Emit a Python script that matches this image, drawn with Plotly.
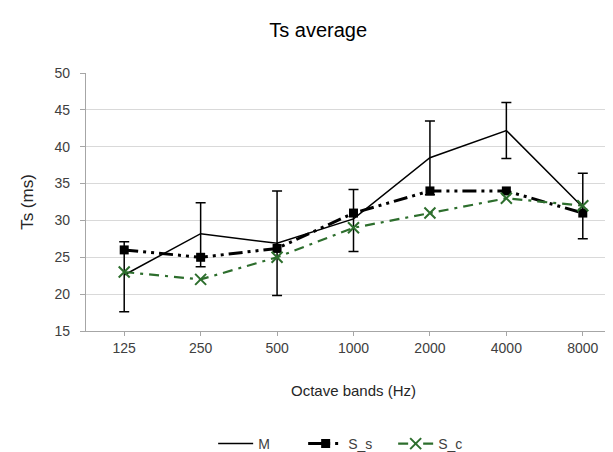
import plotly.graph_objects as go

bands = ["125", "250", "500", "1000", "2000", "4000", "8000"]
m_vals = [22.6, 28.2, 26.9, 30.2, 38.5, 42.2, 31.8]
m_err_plus = [4.5, 4.2, 7.1, 4.0, 5.0, 3.8, 4.6]
m_err_minus = [5.0, 4.5, 7.1, 4.4, 5.0, 3.8, 4.3]
ss_vals = [26.0, 25.0, 26.2, 31.0, 34.0, 34.0, 31.0]
sc_vals = [23.0, 22.0, 25.0, 29.0, 31.0, 33.0, 32.0]
y_ticks = [15, 20, 25, 30, 35, 40, 45, 50]

green = "#2d6e2d"
font_main = "Liberation Sans, Arial, sans-serif"

fig = go.Figure()
fig.add_trace(go.Scatter(
    x=bands, y=m_vals, name="M", mode="lines",
    line=dict(color="black", width=1.5),
    error_y=dict(type="data", symmetric=False, array=m_err_plus,
                 arrayminus=m_err_minus, color="black", thickness=1.5, width=5),
))
fig.add_trace(go.Scatter(
    x=bands, y=ss_vals, name="S_s", mode="lines+markers",
    line=dict(color="black", width=3, dash="14px,5px,3px,5px,3px,5px"),
    marker=dict(symbol="square", size=9, color="black"),
))
fig.add_trace(go.Scatter(
    x=bands, y=sc_vals, name="S_c", mode="lines+markers",
    line=dict(color=green, width=2.2, dash="10px,6px,3px,6px"),
    marker=dict(symbol="x-thin", size=11, line=dict(color=green, width=2)),
))

fig.update_layout(
    width=613, height=452,
    margin=dict(l=78, r=0, t=65, b=128),
    paper_bgcolor="white", plot_bgcolor="white",
    font=dict(family=font_main, size=14, color="#404040"),
    title=dict(text="Ts average", x=0.506, xref="container", xanchor="center",
               y=0.951, yref="container", yanchor="middle",
               font=dict(family="Liberation Sans Narrow, Arial Narrow, sans-serif",
                         size=20, color="black")),
    showlegend=True,
    legend=dict(orientation="h", x=0.49, xanchor="center", y=-0.44,
                yanchor="middle", font=dict(size=14, color="#404040"),
                traceorder="normal", entrywidth=40, itemwidth=35),
)
fig.update_xaxes(
    type="category", range=[-0.5, 6.5],
    showline=True, linecolor="#a6a6a6", linewidth=1.2,
    ticks="outside", ticklen=4, tickcolor="#a6a6a6",
    showgrid=False,
    title=dict(text="Octave bands (Hz)", standoff=30, font=dict(size=15, color="#262626")),
    tickfont=dict(size=14, color="#404040"),
)
fig.update_yaxes(
    range=[15, 50], tickvals=y_ticks,
    showline=True, linecolor="#a6a6a6", linewidth=1.2,
    ticks="outside", ticklen=5, tickcolor="#a6a6a6",
    ticklabelstandoff=7,
    showgrid=True, gridcolor="#d9d9d9", gridwidth=1.2,
    zeroline=False,
    title=dict(text="Ts (ms)", standoff=16, font=dict(size=17, color="#262626")),
    tickfont=dict(size=14, color="#404040"),
)

fig.write_html("out.html")
